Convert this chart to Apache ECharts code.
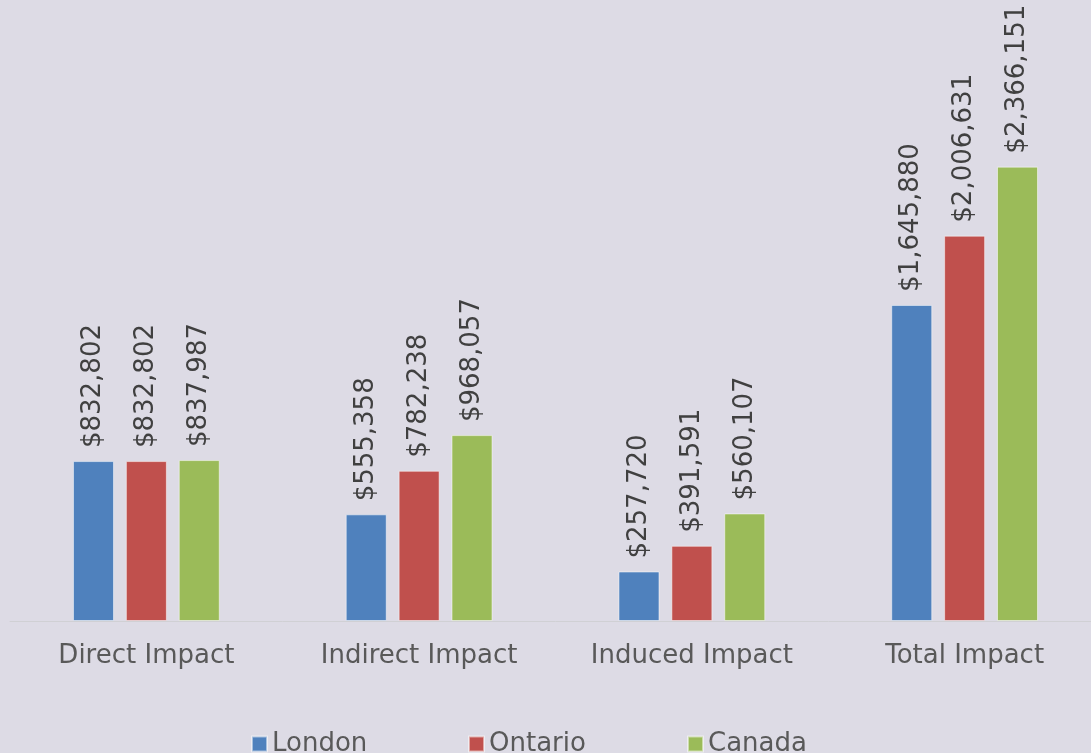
<!DOCTYPE html>
<html><head><meta charset="utf-8">
<script src="https://cdn.jsdelivr.net/npm/echarts@6/dist/echarts.min.js"></script>
<style>html,body{margin:0;padding:0;background:#dddbe5;overflow:hidden;}#c{width:1120px;height:753px;}</style>
</head><body><div id="c"></div>
<script>
const categories = ['Direct Impact', 'Indirect Impact', 'Induced Impact', 'Total Impact'];
const london = [832802, 555358, 257720, 1645880];
const ontario = [832802, 782238, 391591, 2006631];
const canada = [837987, 968057, 560107, 2366151];
const seriesNames = ['London', 'Ontario', 'Canada'];
const colors = ['#4f81bd', '#c0504d', '#9bbb59'];
const FONT = 'DejaVu Sans';
const fmt = v => '$' + v.toLocaleString('en-US');
const chart = echarts.init(document.getElementById('c'));
const mk = (name, data, color) => ({
  name, type: 'bar', data, barWidth: 41, barGap: '29%',
  itemStyle: { color, borderColor: 'rgba(255,255,255,0.5)', borderWidth: 1 },
  label: { show: true, position: 'top', rotate: 90, align: 'left', verticalAlign: 'middle', distance: 13,
    formatter: p => fmt(p.value), color: '#404040', fontSize: 26, fontFamily: FONT }
});
const legendX = [246, 463, 682];
chart.setOption({
  backgroundColor: '#dddbe5',
  animation: false,
  grid: { left: 10, width: 1091, top: 0, bottom: 132 },
  xAxis: { type: 'category', data: categories,
    axisLine: { lineStyle: { color: '#d0d0d4', width: 1 } }, axisTick: { show: false },
    axisLabel: { color: '#595959', fontSize: 26, fontFamily: FONT, margin: 22 } },
  yAxis: { type: 'value', min: 0, max: 3234000, show: false, splitLine: { show: false } },
  legend: seriesNames.map((n, i) => ({ data: [n], left: legendX[i], top: 726, itemWidth: 15, itemHeight: 15, icon: 'rect', itemGap: 6,
    textStyle: { color: '#595959', fontSize: 26, fontFamily: FONT } })),
  series: [mk(seriesNames[0], london, colors[0]), mk(seriesNames[1], ontario, colors[1]), mk(seriesNames[2], canada, colors[2])]
});
</script></body></html>
